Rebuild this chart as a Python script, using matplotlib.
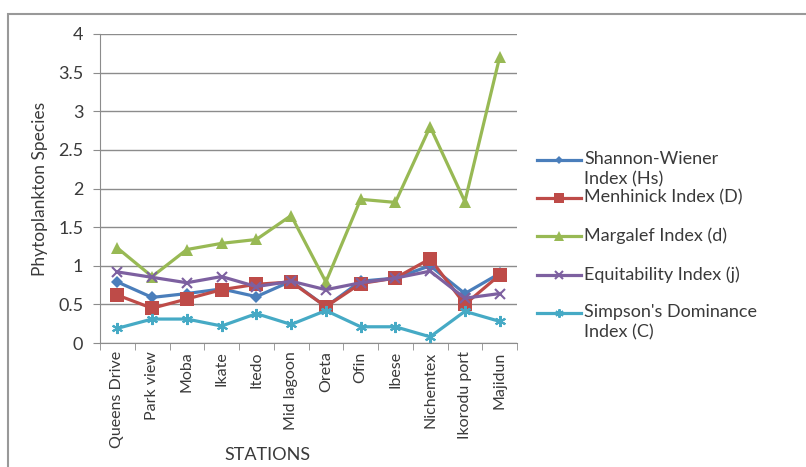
import matplotlib.pyplot as plt
from matplotlib.lines import Line2D
from matplotlib.patches import Rectangle
import numpy as np

plt.rcParams["font.family"] = ["Lato", "DejaVu Sans"]

stations = ["Queens Drive", "Park view", "Moba", "Ikate", "Itedo", "Mid lagoon",
            "Oreta", "Ofin", "Ibese", "Nichemtex", "Ikorodu port", "Majidun"]

shannon = [0.79, 0.59, 0.64, 0.70, 0.60, 0.80, 0.47, 0.80, 0.84, 1.00, 0.64, 0.90]
menhinick = [0.62, 0.45, 0.57, 0.69, 0.76, 0.79, 0.47, 0.77, 0.84, 1.09, 0.50, 0.88]
margalef = [1.23, 0.86, 1.21, 1.29, 1.34, 1.65, 0.79, 1.86, 1.82, 2.80, 1.83, 3.70]
equitability = [0.92, 0.85, 0.78, 0.86, 0.73, 0.80, 0.69, 0.78, 0.84, 0.93, 0.58, 0.64]
simpson = [0.19, 0.31, 0.31, 0.22, 0.38, 0.24, 0.42, 0.21, 0.21, 0.08, 0.41, 0.28]

series = [
    ("Shannon-Wiener\nIndex (Hs)", shannon, "#4A7EBB", "D", 6, 0),
    ("Menhinick Index (D)", menhinick, "#BE4B48", "s", 10, 0),
    ("Margalef Index (d)", margalef, "#98B954", "^", 9, 0),
    ("Equitability Index (j)", equitability, "#7D60A0", "x", 7, 1.5),
    ("Simpson's Dominance\nIndex (C)", simpson, "#46AAC5", (6, 2, 0), 8, 1.5),
]

W, H = 806, 467
fig = plt.figure(figsize=(W / 100, H / 100), dpi=100)
ax = fig.add_axes([100 / W, 1 - 343 / H, 417 / W, 309 / H])

x = np.arange(len(stations))
for label, vals, col, mk, ms, mew in series:
    ax.plot(x, vals, color=col, lw=2.3, marker=mk, markersize=ms,
            markeredgewidth=mew, markeredgecolor=col, markerfacecolor=col,
            clip_on=False, zorder=3)

ax.set_xlim(-0.5, len(stations) - 0.5)
ax.set_ylim(0, 4)
ax.set_yticks(np.arange(0, 4.01, 0.5))
ax.set_yticklabels(["0", "0.5", "1", "1.5", "2", "2.5", "3", "3.5", "4"])
ax.yaxis.grid(True, color="#8c8c8c", lw=1)
ax.set_axisbelow(True)

ax.set_xticks(x)
ax.set_xticklabels(stations, rotation=90)
ax.set_xticks(np.arange(-0.5, len(stations)), minor=True)
ax.tick_params(axis="x", which="major", length=0, pad=6, labelsize=11.5)
ax.tick_params(axis="x", which="minor", length=5, color="#8c8c8c")
ax.tick_params(axis="y", length=5, color="#8c8c8c", pad=7, labelsize=13)
ax.tick_params(labelcolor="#3a3a3a")

for s in ["top", "right"]:
    ax.spines[s].set_visible(False)
for s in ["left", "bottom"]:
    ax.spines[s].set_color("#8c8c8c")

ax.set_ylabel("Phytoplankton Species", fontsize=12.5, color="#3a3a3a", labelpad=7)
fig.text(267 / W, 1 - 455 / H, "STATIONS", fontsize=13, color="#3a3a3a",
         ha="center", va="center")

# legend drawn by hand so wrapped labels line up on their first row
leg_y = [160, 198, 236, 275, 313]
for (label, vals, col, mk, ms, mew), py in zip(series, leg_y):
    yf = 1 - py / H
    fig.add_artist(Line2D([537 / W, 581 / W], [yf, yf], color=col, lw=2.3))
    fig.add_artist(Line2D([559 / W], [yf], color=col, marker=mk,
                          markersize=ms * 0.75, markeredgewidth=mew,
                          markerfacecolor=col, markeredgecolor=col))
    fig.text(584 / W, yf + 9 / H, label, fontsize=13, color="#3a3a3a",
             ha="left", va="top", linespacing=1.3)

fig.add_artist(Rectangle((8 / W, -0.1), 1.1, 1 - 14 / H + 0.1,
                         transform=fig.transFigure, fill=False,
                         edgecolor="#999999", lw=1.5))

fig.savefig("out.png", dpi=100)
